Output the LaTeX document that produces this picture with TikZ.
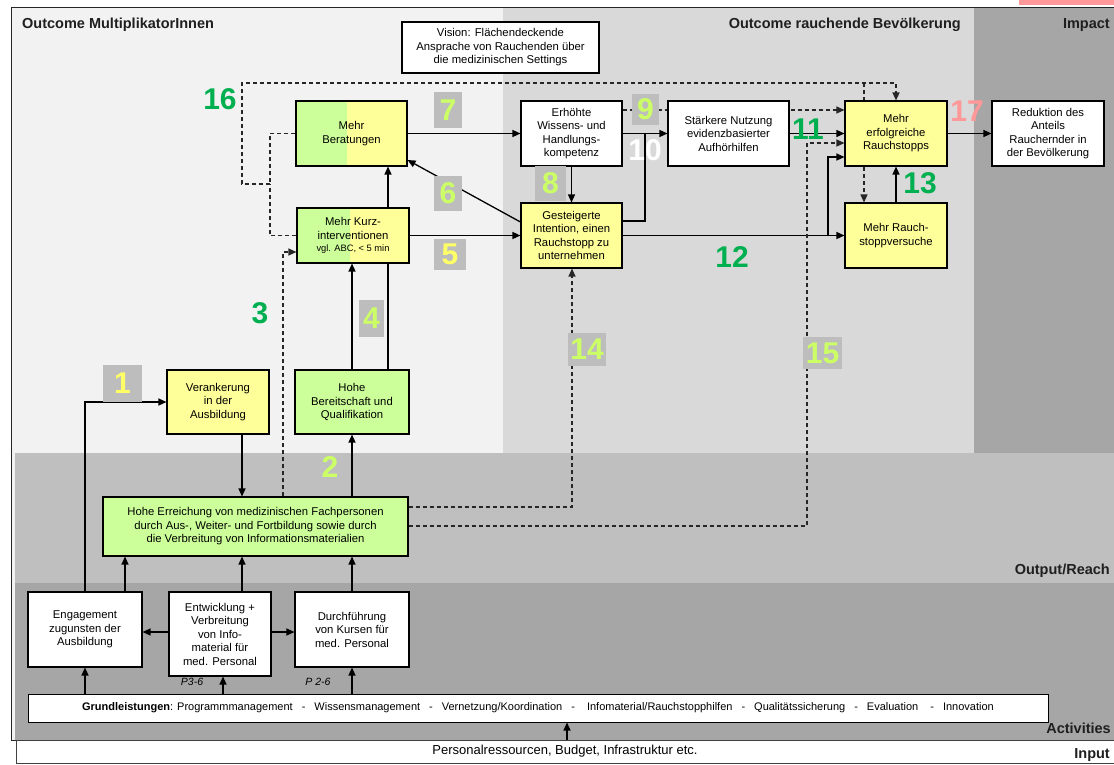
\documentclass[tikz,border=0pt]{standalone}
\usepackage{fontspec}
\setmainfont{Liberation Sans}
\usetikzlibrary{arrows.meta}
\pgfdeclarelayer{bands}
\pgfdeclarelayer{links}
\pgfsetlayers{bands,links,main}

\definecolor{grn}{HTML}{CCFF99}
\definecolor{yel}{HTML}{FFFF99}
\definecolor{numbg}{HTML}{BDBDBD}
\definecolor{numlg}{HTML}{CCFF66}
\definecolor{numly}{HTML}{FFFF66}
\definecolor{numdg}{HTML}{00B050}
\definecolor{numpk}{HTML}{FF9999}
\definecolor{bandA}{HTML}{F2F2F2}
\definecolor{bandB}{HTML}{D9D9D9}
\definecolor{bandC}{HTML}{A6A6A6}
\definecolor{bandOut}{HTML}{BFBFBF}
\definecolor{bandAct}{HTML}{A6A6A6}

\newcommand\boxfont{\fontsize{11.3}{13.5}\selectfont}
\newcommand\smallboxfont{\fontsize{9.3}{10}\selectfont}
\newcommand\gsep{\hspace{9pt}-\hspace{9pt}}

\begin{document}
\begin{tikzpicture}[x=1pt,y=-1pt,
  box/.style={draw=black, line width=1.1pt, align=center, inner sep=1pt, font=\boxfont},
  whitebox/.style={box, fill=white},
  yelbox/.style={box, fill=yel},
  grnbox/.style={box, fill=grn},
  splitbox/.style={box, fill=yel, path picture={\fill[grn] (path picture bounding box.south west) rectangle ([xshift=#1]path picture bounding box.north west);}},
  sect/.style={font=\bfseries\fontsize{14.5}{16}\selectfont, text=black!88, inner sep=0pt},
  numtxt/.style={font=\bfseries\fontsize{30}{30}\selectfont, inner sep=0pt},
  numbox/.style={numtxt, fill=numbg},
  plab/.style={font=\itshape\fontsize{10.5}{12}\selectfont, inner sep=0pt},
  ln/.style={draw=black, line width=1.3pt},
  arr/.style={ln, -{Triangle[length=8pt,width=7pt]}},
  dsh/.style={draw=black!85, line width=1.2pt, dash pattern=on 4pt off 3pt},
  darr/.style={dsh, -{Triangle[length=8pt,width=7pt]}},
]
\useasboundingbox (0,0) rectangle (1114,764);

% ---------- column and row guides for connectors ----------
\coordinate (c85) at (85,0);
\coordinate (c125) at (125,0);
\coordinate (c223) at (223,0);
\coordinate (c242) at (242,0);
\coordinate (c270) at (270,0);
\coordinate (c283) at (283,0);
\coordinate (c352) at (352,0);
\coordinate (c388) at (388,0);
\coordinate (c567) at (567,0);
\coordinate (c572) at (572,0);
\coordinate (c645) at (645,0);
\coordinate (c807) at (807,0);
\coordinate (c828) at (828,0);
\coordinate (c864) at (864,0);
\coordinate (c896) at (896,0);
\coordinate (r83) at (0,83);
\coordinate (r110) at (0,110);
\coordinate (r143) at (0,143);
\coordinate (r157) at (0,157);
\coordinate (r160) at (0,160);
\coordinate (r184) at (0,184);
\coordinate (r221) at (0,221);
\coordinate (r222) at (0,222);
\coordinate (r252) at (0,252);
\coordinate (r507) at (0,507);
\coordinate (r526) at (0,526);
\coordinate (r632) at (0,632);

% ---------- boxes ----------
\node[whitebox, minimum width=197pt, minimum height=51pt] (vision) at (500.5,47.5)
  {Vision: Flächendeckende\\Ansprache von Rauchenden über\\die medizinischen Settings};
\node[splitbox=51pt, minimum width=111pt, minimum height=65pt] (beratung) at (351.5,133.5) {Mehr\\Beratungen};
\node[splitbox=53pt, minimum width=112pt, minimum height=55pt] (kurz) at (353,235.5)
  {Mehr Kurz-\\interventionen\\[-1.5pt]{\smallboxfont vgl. ABC, < 5 min}};
\node[whitebox, minimum width=101pt, minimum height=65pt] (kompetenz) at (571.5,133.5)
  {Erhöhte\\Wissens- und\\Handlungs-\\kompetenz};
\node[yelbox, minimum width=101pt, minimum height=65pt] (intention) at (571.5,235.5)
  {Gesteigerte\\Intention, einen\\Rauchstopp zu\\unternehmen};
\node[whitebox, minimum width=121pt, minimum height=65pt] (nutzung) at (728.5,133.5)
  {Stärkere Nutzung\\evidenzbasierter\\Aufhörhilfen};
\node[yelbox, minimum width=102pt, minimum height=65pt] (erfolg) at (896,133.5)
  {Mehr\\erfolgreiche\\Rauchstopps};
\node[yelbox, minimum width=102pt, minimum height=65pt] (versuche) at (896,235.5)
  {Mehr Rauch-\\stoppversuche};
\node[whitebox, minimum width=112pt, minimum height=65pt] (reduktion) at (1048,133.5)
  {Reduktion des\\Anteils\\Rauchernder in\\der Bevölkerung};
\node[yelbox, minimum width=102pt, minimum height=64pt] (verankerung) at (218,402)
  {Verankerung\\in der\\Ausbildung};
\node[grnbox, minimum width=114pt, minimum height=64pt] (bereitschaft) at (352,402)
  {Hohe\\Bereitschaft und\\Qualifikation};
\node[grnbox, minimum width=305pt, minimum height=59pt] (erreichung) at (255.5,526.5)
  {Hohe Erreichung von medizinischen Fachpersonen\\durch Aus-, Weiter- und Fortbildung sowie durch\\die Verbreitung von Informationsmaterialien};
\node[whitebox, minimum width=114pt, minimum height=75pt] (engagement) at (85,629.5)
  {Engagement\\zugunsten der\\Ausbildung};
\node[whitebox, minimum width=102pt, minimum height=84pt] (entwicklung) at (220,634)
  {Entwicklung +\\Verbreitung\\von Info-\\material für\\med. Personal};
\node[whitebox, minimum width=114pt, minimum height=75pt] (kurse) at (352,629.5)
  {Durchführung\\von Kursen für\\med. Personal};
\node[whitebox, line width=1pt, minimum width=1020pt, minimum height=28pt, font=\fontsize{11}{12}\selectfont] (grund) at (538,708)
  {\textbf{Grundleistungen}: Programmmanagement\gsep Wissensmanagement\gsep Vernetzung/Koordination\gsep\ Infomaterial/Rauchstopphilfen\gsep Qualitätssicherung\gsep Evaluation\ \gsep Innovation};
\node[draw=black!75, fill=white, line width=0.9pt, minimum width=1098pt, minimum height=23pt, inner sep=0pt, font=\fontsize{13}{14}\selectfont] (input) at (565,751.5)
  {Personalressourcen, Budget, Infrastruktur etc.};

% ---------- section titles ----------
\node[sect, anchor=base west] (lblmulti) at (22,28) {Outcome MultiplikatorInnen};
\node[sect, anchor=base east] (lblpop) at (961,28) {Outcome rauchende Bevölkerung};
\node[sect, anchor=base east] (lblimpact) at (1110,28) {Impact};
\node[sect, anchor=base east] (lbloutput) at (1110,574) {Output/Reach};
\node[sect, anchor=base east] (lblact) at (1111,733) {Activities};
\node[sect, anchor=base east] (lblinput) at (1110,758) {Input};

\node[plab] (p36) at (192,682) {P3-6};
\node[plab] (p26) at (318,682) {P 2-6};

% ---------- path numbers ----------
\node[numbox, text=numly, minimum width=39pt, minimum height=37pt] (n1) at (122.5,383.5) {1};
\node[numtxt, text=numlg] (n2) at (330,467) {2};
\node[numtxt, text=numdg] (n3) at (260,313) {3};
\node[numbox, text=numlg, minimum width=25pt, minimum height=37pt] (n4) at (371.5,318.5) {4};
\node[numbox, text=numly, minimum width=32pt, minimum height=31pt] (n5) at (450,254.5) {5};
\node[numbox, text=numlg, minimum width=28pt, minimum height=35pt] (n6) at (448,193.5) {6};
\node[numbox, text=numlg, minimum width=28pt, minimum height=36pt] (n7) at (448,110) {7};
\node[numbox, text=numlg, minimum width=31pt, minimum height=35pt] (n8) at (550.5,183.5) {8};
\node[numbox, text=numlg, minimum width=27pt, minimum height=31pt] (n9) at (645.5,109.5) {9};
\node[numtxt, text=white] (n10) at (645,150) {10};
\node[numtxt, text=numdg] (n11) at (808,129) {11};
\node[numtxt, text=numdg] (n12) at (732,257) {12};
\node[numtxt, text=numdg] (n13) at (920,183) {13};
\node[numbox, text=numlg, minimum width=38pt, minimum height=33pt] (n14) at (587,349.5) {14};
\node[numbox, text=numlg, minimum width=39pt, minimum height=32pt] (n15) at (822.5,353) {15};
\node[numtxt, text=numdg] (n16) at (220,99) {16};
\node[numtxt, text=numpk] (n17) at (967,111) {17};

% ---------- background bands and frame ----------
\begin{pgfonlayer}{bands}
  \fill[white] (0,0) rectangle (1114,764);
  \fill[numpk] (1019,0) rectangle (1114,5);
  \fill[bandA] (11,7) rectangle (1114,740);
  \fill[bandB] (503,8) rectangle (974,453);
  \fill[bandC] (974,8) rectangle (1114,453);
  \fill[bandOut] (15,453) rectangle (1114,583);
  \fill[bandAct] (15,583) rectangle (1114,740);
  \draw[black!85, line width=1pt] (1114,7) -- (11,7) -- (11,740) -- (1114,740);
\end{pgfonlayer}

% ---------- connectors ----------
\begin{pgfonlayer}{links}
  % outcomes of the multipliers
  \draw[arr] (beratung.east) -- (kompetenz.west);
  \draw[arr] (kompetenz.south) -- (intention.north);
  \draw[arr] (kompetenz.east) -- (nutzung.west);
  \draw[ln] (intention.east |- r221) -| (c645 |- kompetenz.east);
  \draw[darr] (kompetenz.east |- r110) -- (erfolg.west |- r110);
  \draw[arr] (nutzung.east) -- (erfolg.west);
  \draw[arr] (intention.east) -- (versuche.west);
  \draw[arr] (c828 |- intention.east) |- (erfolg.west |- r157);
  \draw[arr] (versuche.north) -- (erfolg.south);
  \draw[arr] (erfolg.east) -- (reduktion.west);
  \draw[arr] (intention.west |- r222) -- (beratung.east |- r160);
  \draw[arr] (kurz.east) -- (intention.west);
  \draw[arr] (bereitschaft.north -| c352) -- (kurz.south -| c352);
  \draw[arr] (bereitschaft.north -| c388) -- (beratung.south -| c388);
  % feedback loop 16
  \draw[dsh] (beratung.west) -| (c270 |- r184);
  \draw[dsh] (kurz.west) -| (c270 |- r184);
  \draw[darr] (c270 |- r184) -- (c242 |- r184) |- (c896 |- r83) -- (erfolg.north);
  \draw[darr] (c864 |- r83) -- (versuche.north -| c864);
  % reach to outcomes
  \draw[arr] (erreichung.north -| c352) -- (bereitschaft.south);
  \draw[arr] (verankerung.south -| c242) -- (erreichung.north -| c242);
  \draw[darr] (erreichung.north -| c283) |- (kurz.west |- r252);
  \draw[darr] (erreichung.east |- r507) -| (intention.south -| c572);
  \draw[darr] (erreichung.east |- r526) -| (c807 |- r143) -- (erfolg.west |- r143);
  % activities
  \draw[arr] (engagement.north) |- (verankerung.west);
  \draw[arr] (engagement.north -| c125) -- (erreichung.south -| c125);
  \draw[arr] (entwicklung.north -| c242) -- (erreichung.south -| c242);
  \draw[arr] (kurse.north) -- (erreichung.south -| c352);
  \draw[arr] (entwicklung.west |- r632) -- (engagement.east |- r632);
  \draw[arr] (entwicklung.east |- r632) -- (kurse.west |- r632);
  \draw[arr] (grund.north -| c85) -- (engagement.south);
  \draw[arr] (grund.north -| c223) -- (entwicklung.south -| c223);
  \draw[arr] (grund.north -| c352) -- (kurse.south);
  \draw[arr] (input.north -| c567) -- (grund.south -| c567);
\end{pgfonlayer}
\end{tikzpicture}
\end{document}
